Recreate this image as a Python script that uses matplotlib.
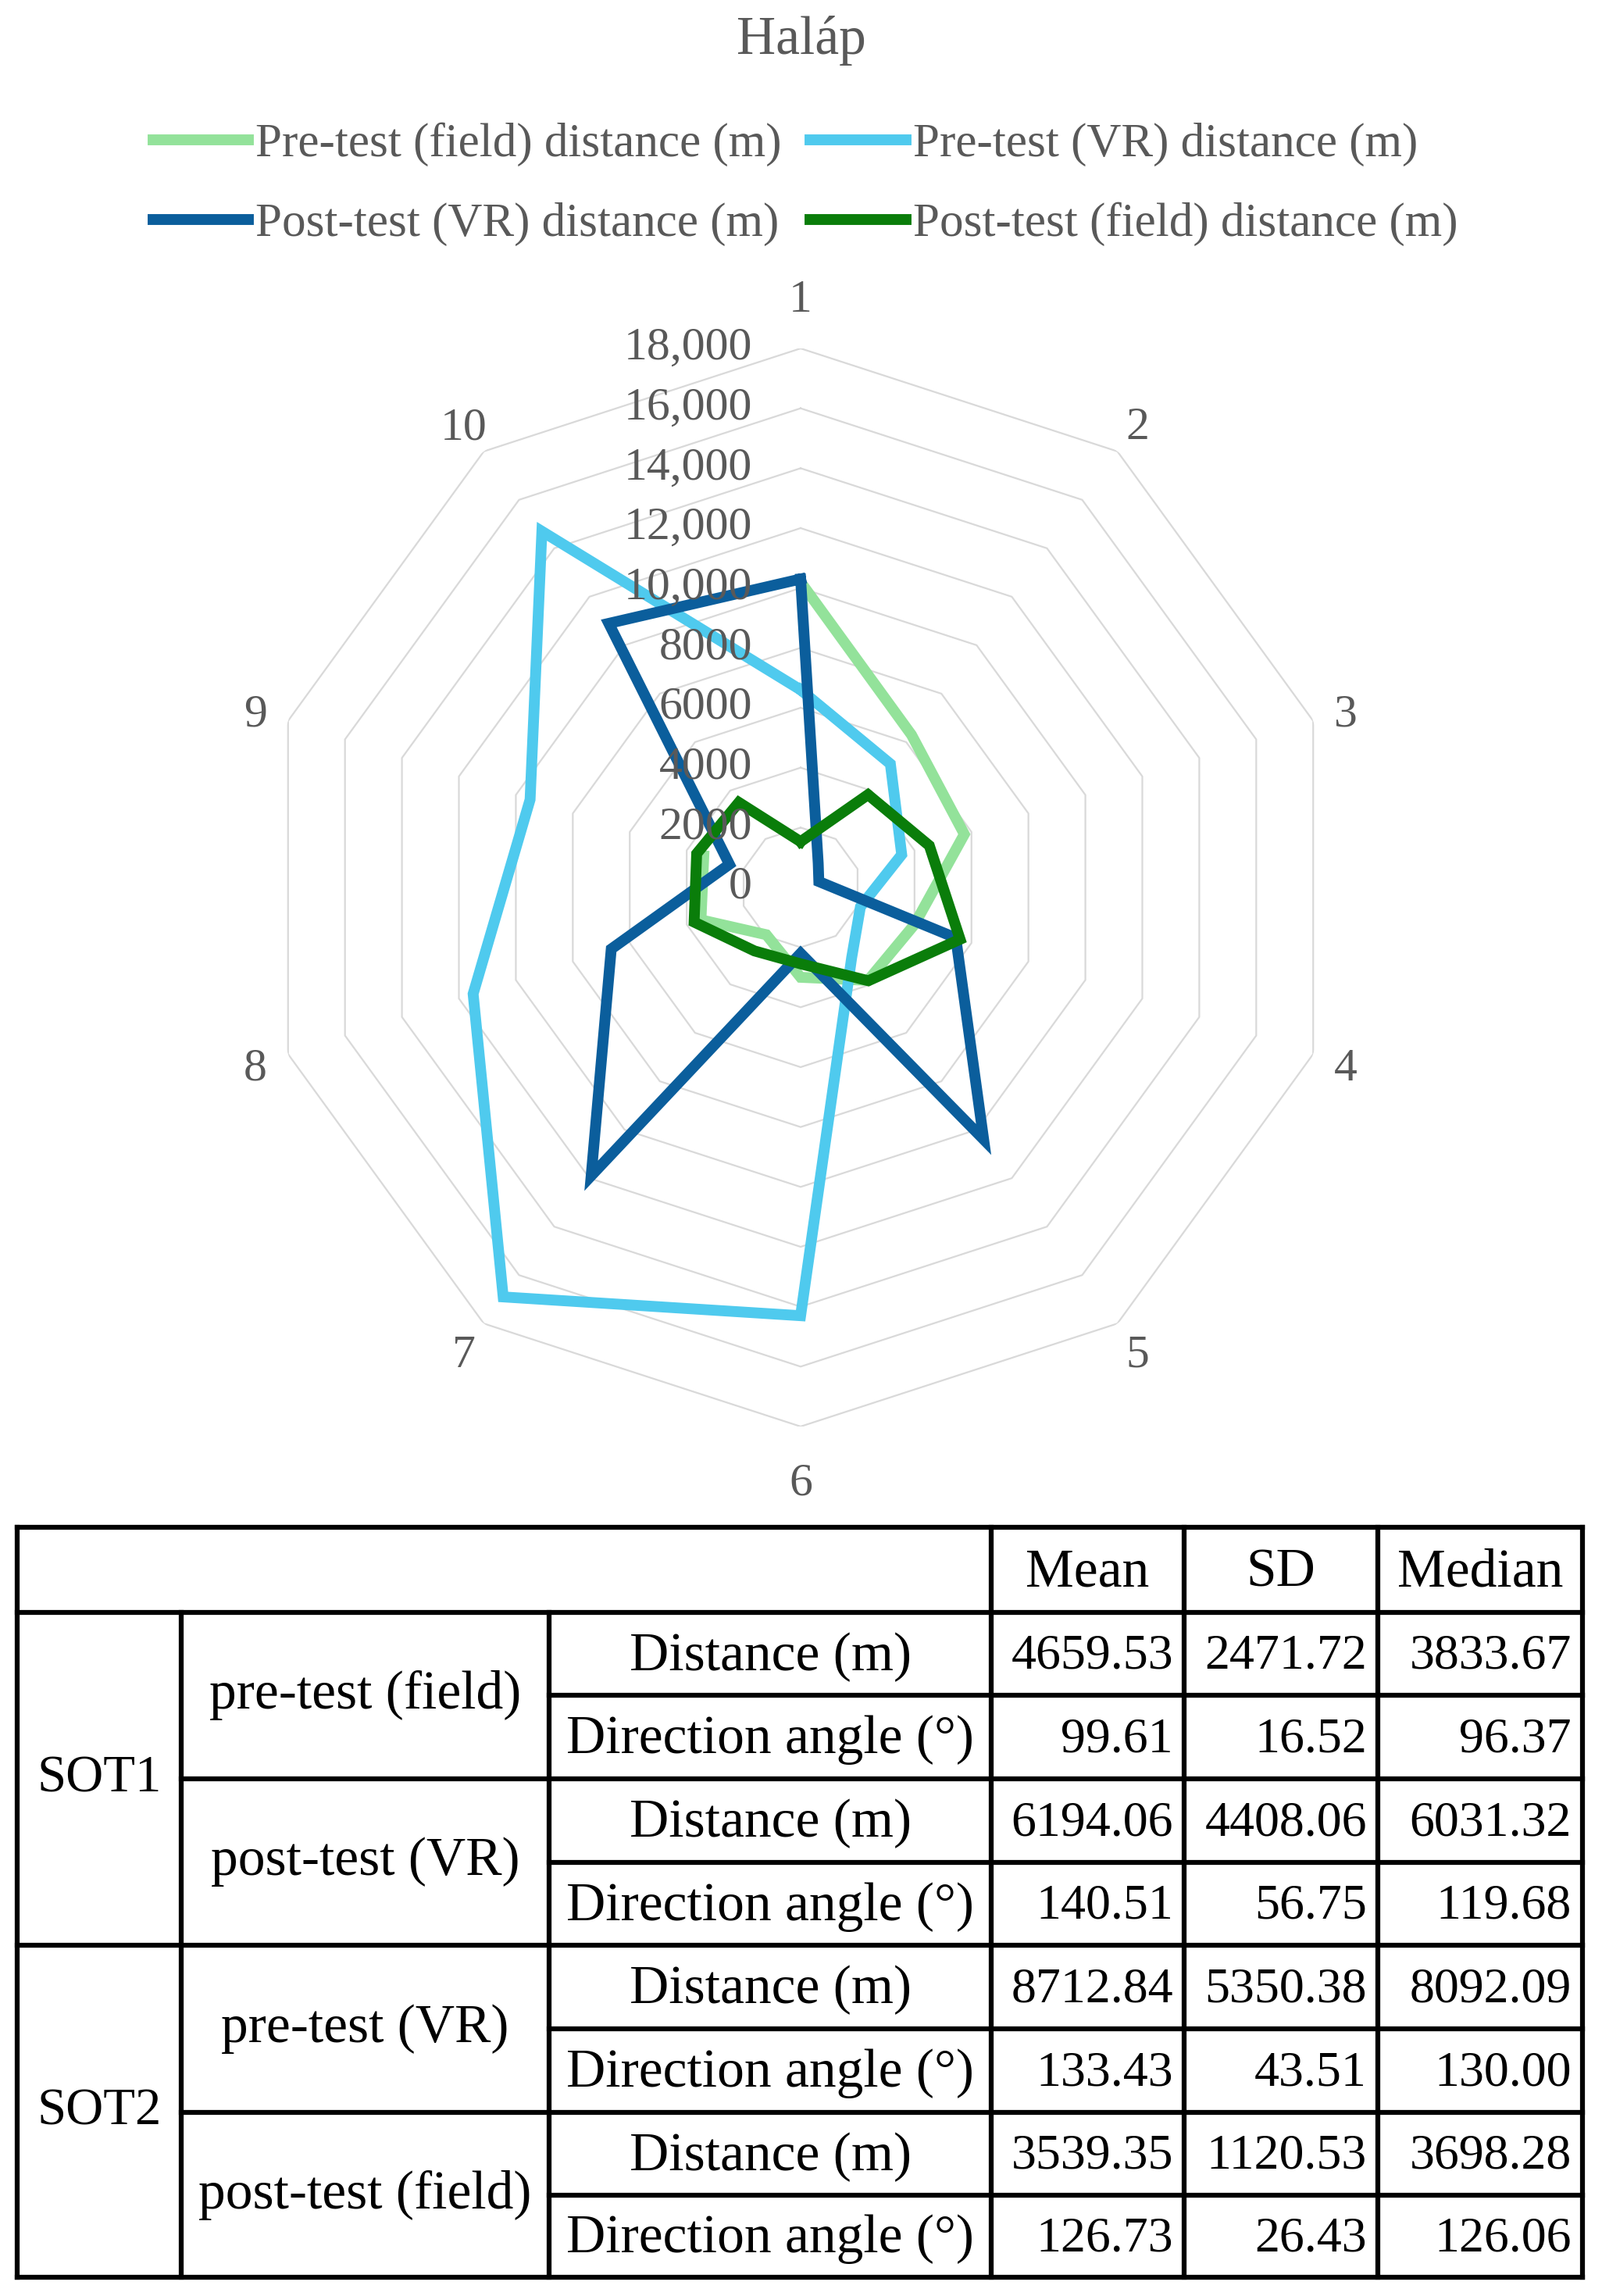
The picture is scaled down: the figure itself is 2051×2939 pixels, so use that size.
import matplotlib
matplotlib.use("Agg")
import matplotlib.pyplot as plt
import matplotlib.transforms as mtransforms
import numpy as np

plt.rcParams['font.family'] = ['Liberation Serif', 'DejaVu Serif']

# radar data (value per direction 1..10)
directions = ["1", "2", "3", "4", "5", "6", "7", "8", "9", "10"]
pre_field = [10200, 6300, 5750, 4000, 3834, 3000, 1950, 3500, 3400, np.nan]
pre_vr = [6600, 5100, 3550, 2100, 2900, 14300, 16900, 11500, 9500, 14700]
post_vr = [10300, 1000, 640, 5450, 10400, 2200, 11900, 6650, 2500, 10900]
post_field = [1530, 3830, 4520, 5600, 3850, 2550, 2620, 3740, 3650, 3510]

series_names = ["Pre-test (field) distance (m)", "Pre-test (VR) distance (m)",
                "Post-test (VR) distance (m)", "Post-test (field) distance (m)"]
series_colors = ["#93E29A", "#4FCAEE", "#0B5E9C", "#0A7D0A"]

ring_values = [2000, 4000, 6000, 8000, 10000, 12000, 14000, 16000, 18000]
tick_values = [0, 2000, 4000, 6000, 8000, 10000, 12000, 14000, 16000, 18000]
tick_labels = ["0", "2000", "4000", "6000", "8000", "10,000", "12,000", "14,000", "16,000", "18,000"]

# table data
col_header = ["Mean", "SD", "Median"]
groups = ["SOT1", "SOT2"]
tests = ["pre-test (field)", "post-test (VR)", "pre-test (VR)", "post-test (field)"]
measures = ["Distance (m)", "Direction angle (°)"]
mean_vals = ["4659.53", "99.61", "6194.06", "140.51", "8712.84", "133.43", "3539.35", "126.73"]
sd_vals = ["2471.72", "16.52", "4408.06", "56.75", "5350.38", "43.51", "1120.53", "26.43"]
median_vals = ["3833.67", "96.37", "6031.32", "119.68", "8092.09", "130.00", "3698.28", "126.06"]

W, H = 2051, 2939
fig = plt.figure(figsize=(W / 100, H / 100), dpi=100)
gray = "#595959"

fig.text(0.5, 1 - 52 / H, "Haláp", ha="center", va="center", fontsize=50, color=gray)

# radar axes
cx, cy, R = 1025, 1136, 690
ax = fig.add_axes([(cx - R) / W, (H - cy - R) / H, 2 * R / W, 2 * R / H], projection="polar")
ax.set_theta_zero_location("N")
ax.set_theta_direction(-1)
ax.set_ylim(0, 18000)
ax.grid(False)
ax.spines["polar"].set_visible(False)
ax.set_xticks([])
ax.set_yticks([])
ax.patch.set_alpha(0)

n = len(directions)
theta = np.arange(n) * 2 * np.pi / n
theta_closed = np.append(theta, theta[0])

for rv in ring_values:
    ax.plot(theta_closed, [rv] * (n + 1), color="#D9D9D9", lw=1.6, zorder=1)

handles = []
for vals, name, col in zip([pre_field, pre_vr, post_vr, post_field], series_names, series_colors):
    v = np.append(np.array(vals, dtype=float), vals[0])
    h, = ax.plot(theta_closed, v, color=col, lw=10, solid_joinstyle="miter", label=name, zorder=3)
    handles.append(h)

off = mtransforms.offset_copy(ax.transData, fig=fig, x=-62, y=0, units="dots")
for tv, tl in zip(tick_values, tick_labels):
    ax.text(0, tv, tl, transform=off, ha="right", va="center", fontsize=43, color=gray, zorder=5)

# category labels sit a bit further out at top and bottom
label_r = np.where(np.isclose(np.abs(np.cos(theta)), 1), 19750, 19150)
off_lab = mtransforms.offset_copy(ax.transData, fig=fig, x=0, y=-6, units="dots")
for th, lr, lab in zip(theta, label_r, directions):
    ax.text(th, lr, lab, transform=off_lab, ha="center", va="center", fontsize=43,
            color=gray, clip_on=False)

# legend: row1 = pre field, pre VR ; row2 = post VR, post field
order = [0, 2, 1, 3]
fig.legend([handles[i] for i in order], [series_names[i] for i in order],
           loc="center", bbox_to_anchor=(1031 / W, 1 - 236 / H), ncol=2, frameon=False,
           fontsize=44, handlelength=2.0, handletextpad=0.15, columnspacing=0.6,
           labelspacing=0.75, labelcolor=gray)

# table
tx = fig.add_axes([0, 0, 1, 1])
tx.set_xlim(0, W)
tx.set_ylim(H, 0)
tx.axis("off")
cols = [22, 232, 703, 1269, 1516, 1764, 2026]
rows = [1955, 2064, 2170, 2277, 2384, 2490, 2597, 2704, 2810, 2915]
lw_t = 4.5
fs_t = 50
fs_n = 46

def hline(y, x0, x1):
    tx.plot([x0, x1], [y, y], color="black", lw=lw_t, solid_capstyle="projecting")

def vline(x, y0, y1):
    tx.plot([x, x], [y0, y1], color="black", lw=lw_t, solid_capstyle="projecting")

for i, y in enumerate(rows):
    if i in (0, 1, 5, 9):
        hline(y, cols[0], cols[-1])
    elif i in (3, 7):
        hline(y, cols[1], cols[-1])
    else:
        hline(y, cols[2], cols[-1])
for j, x in enumerate(cols):
    if j in (1, 2):
        vline(x, rows[1], rows[-1])
    else:
        vline(x, rows[0], rows[-1])

for j, t in enumerate(col_header):
    tx.text((cols[3 + j] + cols[4 + j]) / 2, (rows[0] + rows[1]) / 2 + 4, t,
            ha="center", va="center", fontsize=fs_t, color="black")

for g, name in enumerate(groups):
    y0, y1 = rows[1 + 4 * g], rows[5 + 4 * g]
    tx.text((cols[0] + cols[1]) / 2, (y0 + y1) / 2, name, ha="center", va="center",
            fontsize=fs_n + 2)

for k, name in enumerate(tests):
    y0, y1 = rows[1 + 2 * k], rows[3 + 2 * k]
    tx.text((cols[1] + cols[2]) / 2, (y0 + y1) / 2, name, ha="center", va="center",
            fontsize=fs_t)

for r in range(8):
    yc = (rows[1 + r] + rows[2 + r]) / 2 + 4
    tx.text((cols[2] + cols[3]) / 2, yc, measures[r % 2], ha="center", va="center", fontsize=fs_t)
    for j, vals in enumerate([mean_vals, sd_vals, median_vals]):
        tx.text(cols[4 + j] - 14, yc, vals[r], ha="right", va="center", fontsize=fs_n)

fig.savefig("out.png", dpi=100)
